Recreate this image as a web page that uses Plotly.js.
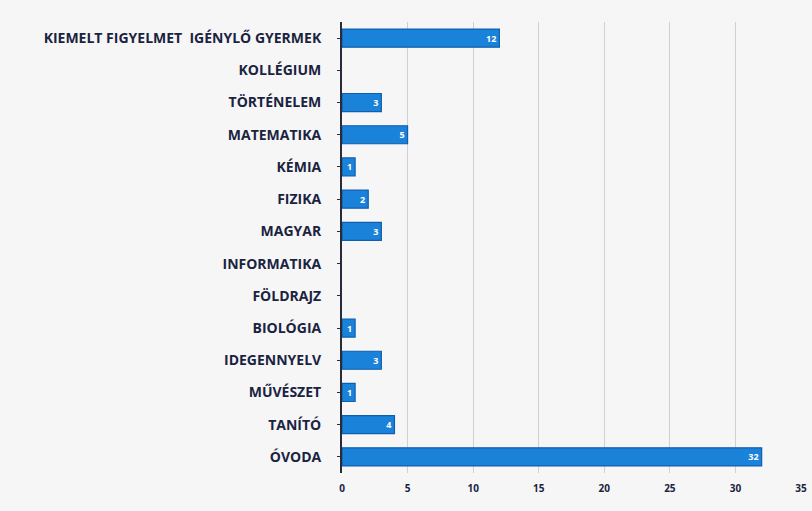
<!DOCTYPE html>
<html><head><meta charset="utf-8">
<script src="https://cdn.plot.ly/plotly-3.0.1.min.js"></script>
<style>html,body{margin:0;padding:0;background:#f6f6f6;}#chart{width:812px;height:511px;}</style>
</head><body><div id="chart"></div>
<script>
const categories = ["KIEMELT FIGYELMET  IGÉNYLŐ GYERMEK","KOLLÉGIUM","TÖRTÉNELEM","MATEMATIKA","KÉMIA","FIZIKA","MAGYAR","INFORMATIKA","FÖLDRAJZ","BIOLÓGIA","IDEGENNYELV","MŰVÉSZET","TANÍTÓ","ÓVODA"];
const values = [12,0,3,5,1,2,3,0,0,1,3,1,4,32];
const xTicks = [0,5,10,15,20,25,30,35];

const trace = {
  type:'bar', orientation:'h',
  y: categories, x: values,
  text: values.map(v => v ? String(v) : ''),
  textposition:'inside', insidetextanchor:'end', textangle:0, constraintext:'none',
  textfont:{family:'Open Sans, sans-serif', size:9, color:'#ffffff', weight:'bold'},
  marker:{color:'#1a82d8', line:{color:'#0f5fae', width:values.map(v => v ? 1.2 : 0)}},
  hoverinfo:'none'
};
const layout = {
  width:812, height:511,
  paper_bgcolor:'#f6f6f6', plot_bgcolor:'#f6f6f6',
  margin:{l:342, r:11, t:22, b:38},
  bargap:0.44,
  showlegend:false,
  xaxis:{range:[0,35], tickvals:xTicks, ticktext:xTicks.map(String), showgrid:true, gridcolor:'#d0d0d0', gridwidth:1,
    zeroline:false, showline:false, ticks:'', ticklabelstandoff:8,
    tickfont:{family:'Open Sans, sans-serif', size:10, color:'#1a2340', weight:'bold'}},
  yaxis:{autorange:'reversed', showline:true, linecolor:'#2a2a3a', linewidth:2, ticks:'outside', ticklen:3, tickcolor:'#2a2a3a',
    ticklabelstandoff:13, showgrid:false,
    tickfont:{family:'Open Sans, sans-serif', size:14, color:'#1a2340', weight:'bold'}}
};
Plotly.newPlot('chart',[trace],layout,{displayModeBar:false, staticPlot:true});
</script></body></html>
